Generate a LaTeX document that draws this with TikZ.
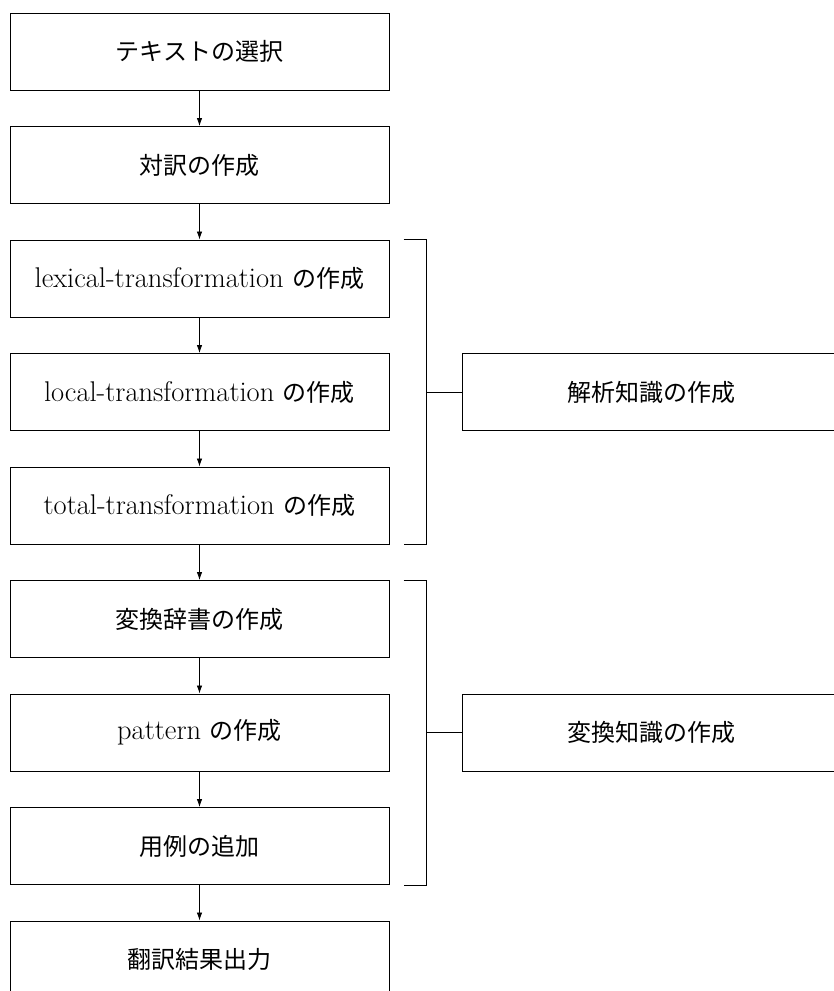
\documentclass[tikz,border=0pt]{standalone}
\usepackage{fontspec}
\newfontfamily\jp{Noto Sans CJK JP}
\newcommand\jpt{\jp\fontsize{24}{28}\selectfont}
\usetikzlibrary{arrows.meta,calc}
\begin{document}
\begin{tikzpicture}[x=1pt,y=-1pt,
  box/.style={draw,line width=1pt,minimum width=379pt,minimum height=77pt,inner sep=0pt,
    font=\fontsize{28.5}{32}\selectfont},
  sidebox/.style={draw,line width=1pt,minimum width=378pt,minimum height=77pt,inner sep=0pt,
    font=\fontsize{28.5}{32}\selectfont},
  flow/.style={line width=0.8pt,-{Latex[length=8pt,width=5.5pt]}},
  brk/.style={line width=0.9pt}]
\useasboundingbox (0,0) rectangle (833,991);
\node[box] (b1) at (199.5,51.5) {\jpt テキストの選択};
\node[box] (b2) at (199.5,165) {\jpt 対訳の作成};
\node[box] (b3) at (199.5,278.5) {lexical-transformation {\jpt の作成}};
\node[box] (b4) at (199.5,392) {local-transformation {\jpt の作成}};
\node[box] (b5) at (199.5,505.5) {total-transformation {\jpt の作成}};
\node[box] (b6) at (199.5,619) {\jpt 変換辞書の作成};
\node[box] (b7) at (199.5,732.5) {pattern {\jpt の作成}};
\node[box] (b8) at (199.5,846) {\jpt 用例の追加};
\node[box] (b9) at (199.5,959.5) {\jpt 翻訳結果出力};
\node[sidebox] (k1) at (651,392) {\jpt 解析知識の作成};
\node[sidebox] (k2) at (651,732.5) {\jpt 変換知識の作成};
\foreach \a/\b in {b1/b2,b2/b3,b3/b4,b4/b5,b5/b6,b6/b7,b7/b8,b8/b9}
  \draw[flow] (\a.south) -- (\b.north);
% brackets
\draw[brk] ($(b3.north east)+(14,0)$) -- ($(b3.north east)+(37,0)$) -- ($(b5.south east)+(37,0)$) -- ($(b5.south east)+(14,0)$);
\draw[brk] ($(b6.north east)+(14,0)$) -- ($(b6.north east)+(37,0)$) -- ($(b8.south east)+(37,0)$) -- ($(b8.south east)+(14,0)$);
\coordinate (j1) at ($(b4.east)+(37,0)$);
\coordinate (j2) at ($(b7.east)+(37,0)$);
\draw[brk] (j1) -- (k1.west);
\draw[brk] (j2) -- (k2.west);
\end{tikzpicture}
\end{document}
